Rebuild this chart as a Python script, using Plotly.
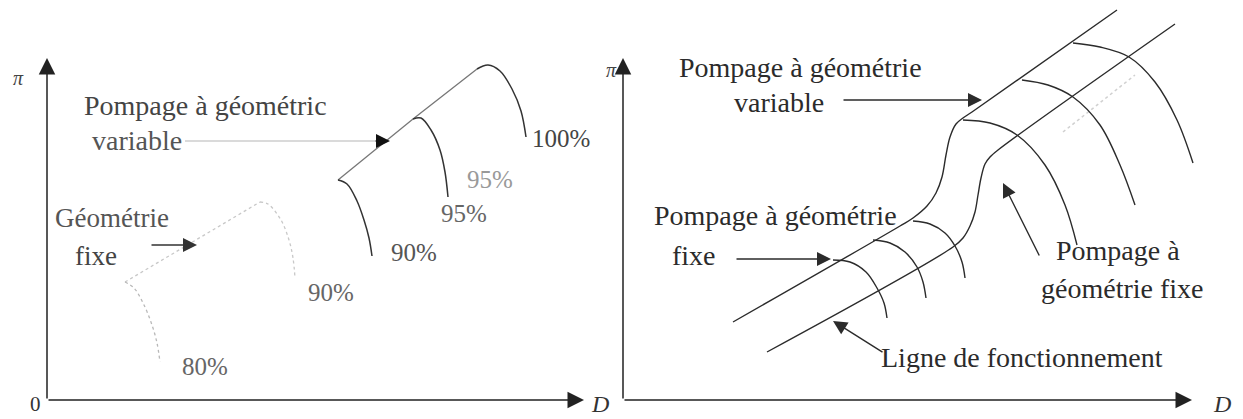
import plotly.graph_objects as go

W, H = 1243, 419

# ---------------- Left panel (schematic, picture coordinates) ----------------
# variable-geometry speed lines and operating line
var100_x = [477, 488, 500, 512, 521, 526]
var100_y = [69, 65, 71, 89, 111, 137]
var95_x = [413, 421, 431, 440, 445, 448]
var95_y = [119, 118, 130, 150, 172, 197]
var90_x = [338, 347, 357, 364, 369, 372]
var90_y = [180, 184, 201, 220, 238, 256]
var_line_x = [338, 413, 477]
var_line_y = [180, 119, 69]
# fixed-geometry speed lines (faint)
fix90_x = [260, 268, 281, 289, 293, 295]
fix90_y = [202, 204, 220, 240, 258, 278]
fix80_x = [125, 134, 144, 152, 157, 160]
fix80_y = [282, 288, 305, 325, 343, 362]
fix_line_x = [125, 260]
fix_line_y = [282, 202]

left_pct_labels = ["100%", "95%", "95%", "90%", "90%", "80%"]
left_pct_x = [561, 490, 464, 414, 331, 205]
left_pct_y = [138, 179, 213, 252, 292, 366]
left_pct_col = ["#444", "#999", "#666", "#555", "#666", "#666"]

# ---------------- Right panel ----------------
band_a_x = [733, 900, 913, 927, 936, 942, 946, 950, 956, 963, 972, 1117]
band_a_y = [322, 226, 218, 206, 193, 177, 155, 137, 124, 118, 112, 10]
band_b_x = [767, 953, 963, 970, 975, 978, 981, 985, 990, 998, 1175]
band_b_y = [352, 247, 238, 226, 212, 195, 178, 164, 157, 150, 24]
mid_line_x = [1063, 1135]
mid_line_y = [132, 75]

arcs_x = [
    [833, 850, 866, 877, 884, 887],
    [873, 890, 905, 917, 923, 926],
    [913, 930, 945, 955, 962, 965],
    [963, 990, 1017, 1045, 1065, 1077],
    [1022, 1048, 1073, 1100, 1120, 1135],
    [1073, 1100, 1129, 1155, 1177, 1193],
]
arcs_y = [
    [260, 262, 272, 288, 303, 318],
    [240, 243, 252, 267, 282, 298],
    [221, 224, 233, 246, 262, 278],
    [120, 123, 135, 165, 205, 245],
    [80, 85, 97, 125, 165, 205],
    [43, 47, 57, 82, 120, 163],
]

FONT = "Liberation Serif"
DARK = "#2b2b2b"
BIG = 28

fig = go.Figure()


def curve(x, y, color=DARK, width=1.5, dash="solid", shape="spline"):
    fig.add_trace(go.Scatter(x=x, y=y, mode="lines", hoverinfo="skip",
                             line=dict(color=color, width=width, dash=dash,
                                       shape=shape, smoothing=1.0)))


# left panel curves
curve(fix_line_x, fix_line_y, "#c8c8c8", 1.3, "dot", "linear")
curve(fix80_x, fix80_y, "#b8b8b8", 1.3, "dot")
curve(fix90_x, fix90_y, "#c8c8c8", 1.3, "dot")
curve(var_line_x, var_line_y, "#777", 1.3, "solid", "linear")
curve(var90_x, var90_y, "#333")
curve(var95_x, var95_y, "#333")
curve(var100_x, var100_y, "#333")
curve([185, 375], [141, 141], "#b5b5b5", 1.2, "solid", "linear")

# right panel curves
curve(band_a_x, band_a_y, DARK, 1.4)
curve(band_b_x, band_b_y, DARK, 1.4)
curve(mid_line_x, mid_line_y, "#d0d0d0", 1.5, "dot", "linear")
for ax_, ay_ in zip(arcs_x, arcs_y):
    curve(ax_, ay_, DARK, 1.4)

ann = []


def arrow(x0, y0, x1, y1, color=DARK, size=2.0, width=1.4):
    ann.append(dict(x=x1, y=y1, ax=x0, ay=y0, xref="x", yref="y", axref="x", ayref="y",
                    showarrow=True, arrowhead=2, arrowsize=size, arrowwidth=width,
                    arrowcolor=color, standoff=0, text=""))


def label(x, y, text, size=BIG, color=DARK, xanchor="center"):
    ann.append(dict(x=x, y=y, xref="x", yref="y", text=text, showarrow=False,
                    xanchor=xanchor, yanchor="middle",
                    font=dict(family=FONT, size=size, color=color)))


# axes
arrow(47, 400, 47, 58, "#222", 2.2, 1.5)
arrow(47, 400, 584, 400, "#222", 2.2, 1.5)
arrow(623, 400, 623, 58, "#222", 2.2, 1.5)
arrow(623, 400, 1192, 400, "#222", 2.2, 1.5)
label(18, 78, "<i>π</i>", 20, "#444")
label(35, 404, "0", 21, "#333")
label(600, 404, "<i>D</i>", 24, "#333")
label(611, 70, "<i>π</i>", 20, "#444")
label(1222, 404, "<i>D</i>", 24, "#333")

# left panel texts / arrows
label(205, 105, "Pompage à géométric", BIG, "#444")
label(137, 140, "variable", BIG, "#555")
arrow(374, 141, 390, 141, "#111", 2.0, 1.4)
label(112, 218, "Géométrie", 27, "#555")
label(96, 256, "fixe", 27, "#444")
arrow(150, 245, 197, 245, "#333", 2.0, 1.4)
for t, x, y, c in zip(left_pct_labels, left_pct_x, left_pct_y, left_pct_col):
    label(x, y, t, 25, c)

# right panel texts / arrows
label(800, 67, "Pompage à géométrie", BIG)
label(779, 102, "variable", BIG)
arrow(842, 100, 982, 100)
label(775, 215, "Pompage à géométrie", BIG)
label(694, 255, "fixe", BIG)
arrow(735, 259, 831, 259)
label(1118, 250, "Pompage à", BIG)
label(1122, 288, "géométrie fixe", BIG)
arrow(1040, 257, 1003, 183)
label(1022, 357, "Ligne de fonctionnement", BIG)
arrow(884, 353, 833, 321)

fig.update_layout(
    width=W, height=H, margin=dict(l=0, r=0, t=0, b=0),
    paper_bgcolor="white", plot_bgcolor="white", showlegend=False,
    xaxis=dict(range=[0, W], visible=False, fixedrange=True),
    yaxis=dict(range=[H, 0], visible=False, fixedrange=True),
    annotations=ann,
)

fig.write_html("out.html", config={"displayModeBar": False},
               post_script="document.body.style.margin='0px';document.body.style.overflow='hidden';")
